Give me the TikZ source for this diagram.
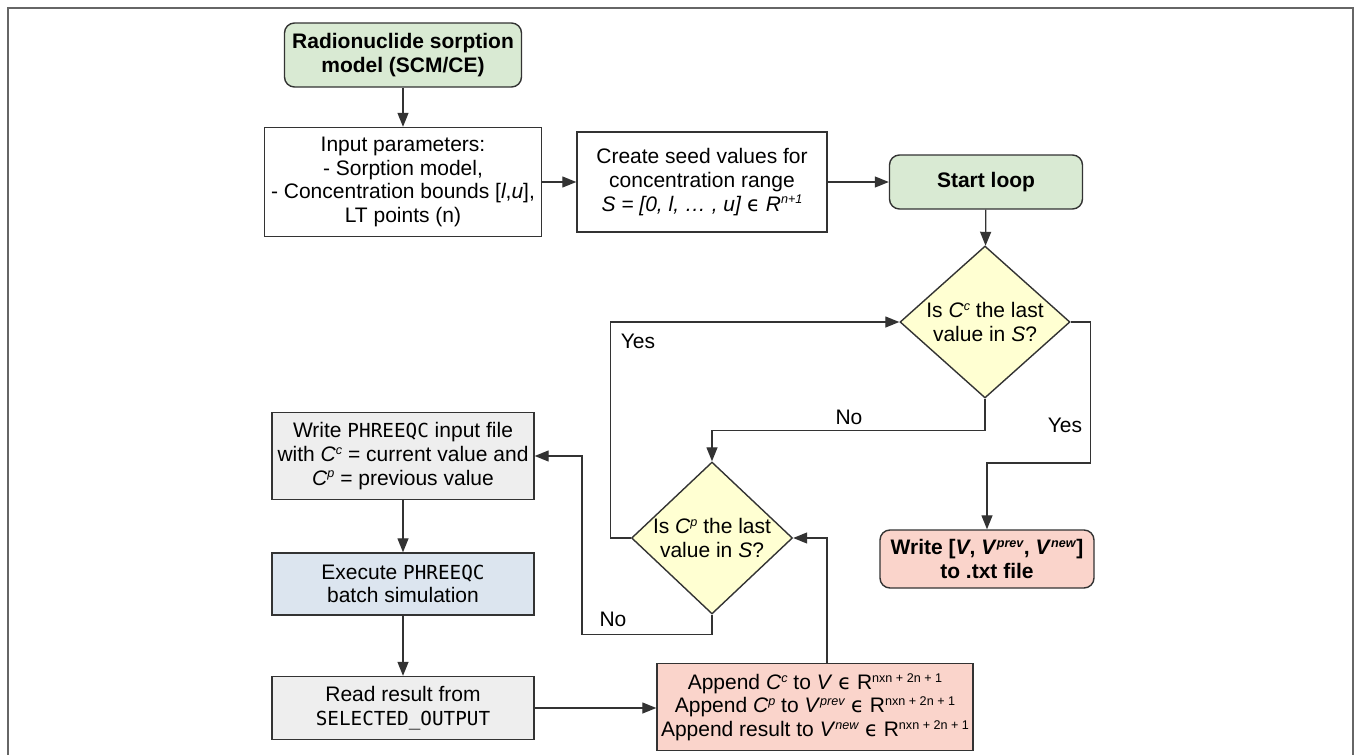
\documentclass[tikz,border=0pt]{standalone}
\usepackage{fontspec}
\setmainfont{Liberation Sans}
\setmonofont{DejaVu Sans Mono}[Scale=0.92]
\newfontfamily\epsfont{DejaVu Sans}
\usepackage{tikz}
\usetikzlibrary{shapes.geometric, arrows.meta, calc}

\definecolor{linegray}{HTML}{333333}
\definecolor{framegray}{HTML}{666666}
\definecolor{startgreen}{HTML}{D9EAD3}
\definecolor{askyellow}{HTML}{FFFFD2}
\definecolor{endred}{HTML}{FAD4CB}
\definecolor{stepgray}{HTML}{EEEEEE}
\definecolor{runblue}{HTML}{DCE5EF}

\newcommand{\basefont}{\fontsize{10.5}{11.8}\selectfont}
\newcommand{\code}[1]{{\ttfamily #1}}
\newcommand{\inset}{{\epsfont ϵ}}
\newcommand{\upper}[1]{\raisebox{3.6pt}{\fontsize{6.3}{7}\selectfont #1}}
\newcommand{\conc}[1]{\textit{C}\upper{\textit{#1}}}
\newcommand{\vset}[1]{\textit{V}\upper{\textit{#1}}}
\newcommand{\dimR}{R\upper{nxn + 2n + 1}}

\begin{document}
\begin{tikzpicture}[x=0.5pt, y=-0.5pt, >={Triangle[length=7pt, width=5.5pt]}]
\tikzset{every node/.style={font=\basefont, text=black}, 
  box/.style={draw=linegray, line width=0.7pt, align=center, inner sep=2pt},
  rbox/.style={box, rounded corners=5pt, font=\basefont\bfseries},
  ask/.style={diamond, draw=linegray, line width=0.7pt, fill=askyellow, inner sep=0pt, minimum width=85pt, minimum height=76pt},
  flow/.style={->, draw=linegray, line width=0.65pt},
  answer/.style={inner sep=0pt}}
% Normalize bounding box
\useasboundingbox (0,0) rectangle (1356,755);
\draw[framegray, line width=0.8pt] (8,755) |- (1353,8) -- (1353,755);

\node[rbox, fill=startgreen, minimum width=118.5pt, minimum height=32pt] (model) at (403,55) {Radionuclide sorption\\model (SCM/CE)};
\node[box, minimum width=138.5pt, minimum height=54.5pt] (input) at (403,182) {Input parameters:\\- Sorption model,\\- Concentration bounds [\textit{l},\textit{u}],\\LT points (n)};
\node[box, minimum width=125pt, minimum height=50pt] (seed) at (702,182) {Create seed values for\\concentration range\\\textit{S = [0, l, \dots\ , u]} \inset\ \textit{R\upper{n+1}}};
\node[rbox, fill=startgreen, minimum width=96.5pt, minimum height=27pt] (start) at (986,182) {Start loop};
\node[ask, label={[align=center]center:Is \conc{c} the last\\value in \textit{S}?}] (lastc) at (985,322) {};
\node[ask, minimum width=80.5pt, label={[align=center]center:Is \conc{p} the last\\value in \textit{S}?}] (lastp) at (712,538) {};
\node[rbox, fill=endred, minimum width=107pt, minimum height=29pt] (writev) at (987,559) {Write [\textit{V}, \vset{prev}, \vset{new}]\\to .txt file};
\node[box, fill=stepgray, minimum width=131pt, minimum height=43.5pt] (phin) at (403,456) {Write \code{PHREEQC} input file\\with \conc{c} = current value and\\\conc{p} = previous value};
\node[box, fill=runblue, minimum width=131pt, minimum height=31pt] (exec) at (403,584) {Execute \code{PHREEQC}\\batch simulation};
\node[box, fill=stepgray, minimum width=131pt, minimum height=31.5pt] (read) at (403,708) {Read result from\\\code{SELECTED\_OUTPUT}};
\node[box, fill=endred, minimum width=156pt, minimum height=43.5pt] (append) at (815,707) {Append \conc{c} to \textit{V} \inset\ \dimR\\Append \conc{p} to \vset{prev} \inset\ \dimR\\Append result to \vset{new} \inset\ \dimR};

\node[answer] (noc) at (849,417) {No};
\node[answer] (yesc) at (1065,425) {Yes};
\node[answer] (yesp) at (638,341) {Yes};
\node[answer] (nop) at (613,619) {No};

\draw[flow] (model) -- (input);
\draw[flow] (input) -- (seed);
\draw[flow] (seed) -- (start);
\draw[flow] (start) -- (lastc);
\draw[flow] (lastc.south) -- ++(0,32) -| (lastp.north);
\draw[flow] (lastc.east) -- ++(20,0) -- ++(0,141) -| (writev.north);
\draw[flow] (lastp.west) -- ++(-20,0) |- (lastc.west);
\draw[flow] (lastp.south) -- ++(0,20) -- ++(-130,0) |- (phin.east);
\draw[flow] (phin) -- (exec);
\draw[flow] (exec) -- (read);
\draw[flow] (read) -- (read -| append.west);
\draw[flow] ([xshift=6pt]append.north) |- (lastp.east);

\end{tikzpicture}
\end{document}
